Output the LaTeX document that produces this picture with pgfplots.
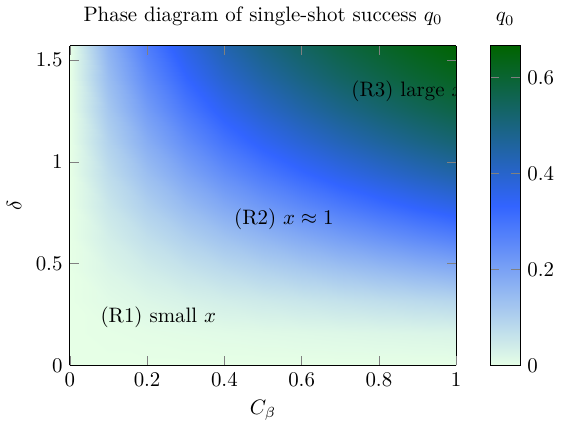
\documentclass[border=0pt]{standalone}
\usepackage{pgfplots}
\pgfplotsset{compat=1.18}

\begin{document}
\begin{tikzpicture}
\begin{axis}[
  width=185pt, height=153pt, scale only axis,
  view={0}{90},
  xmin=0, xmax=1, ymin=0, ymax=1.5708,
  enlargelimits=false,
  xtick={0,0.2,0.4,0.6,0.8,1},
  ytick={0,0.5,1,1.5},
  xlabel={$C_\beta$}, ylabel={$\delta$},
  title={Phase diagram of single-shot success $q_0$},
  colormap={q0map}{rgb255=(230,255,230) rgb255=(50,100,255) rgb255=(0,100,0)},
  colorbar,
  colorbar style={title={$q_0$}, ytick={0,0.2,0.4,0.6}, xshift=2pt},
  point meta min=0, point meta max=0.666,
  axis on top,
]
% q0 on a C_beta x delta grid (x varies fastest, 11 points per row)
\addplot3[surf, shader=interp, mesh/cols=11] table[row sep=\\] {
x y z\\
0 0 0\\ 0.1 0 0\\ 0.2 0 0\\ 0.3 0 0\\ 0.4 0 0\\ 0.5 0 0\\ 0.6 0 0\\ 0.7 0 0\\ 0.8 0 0\\ 0.9 0 0\\ 1 0 0\\
0 0.1571 0\\ 0.1 0.1571 0.0024\\ 0.2 0.1571 0.0048\\ 0.3 0.1571 0.0071\\ 0.4 0.1571 0.0095\\ 0.5 0.1571 0.0119\\ 0.6 0.1571 0.0142\\ 0.7 0.1571 0.0165\\ 0.8 0.1571 0.0188\\ 0.9 0.1571 0.0211\\ 1 0.1571 0.0234\\
0 0.3142 0\\ 0.1 0.3142 0.0095\\ 0.2 0.3142 0.0187\\ 0.3 0.3142 0.0278\\ 0.4 0.3142 0.0368\\ 0.5 0.3142 0.0455\\ 0.6 0.3142 0.0541\\ 0.7 0.3142 0.0626\\ 0.8 0.3142 0.0709\\ 0.9 0.3142 0.0791\\ 1 0.3142 0.0871\\
0 0.4712 0\\ 0.1 0.4712 0.0208\\ 0.2 0.4712 0.0408\\ 0.3 0.4712 0.0599\\ 0.4 0.4712 0.0783\\ 0.5 0.4712 0.0960\\ 0.6 0.4712 0.1131\\ 0.7 0.4712 0.1295\\ 0.8 0.4712 0.1453\\ 0.9 0.4712 0.1606\\ 1 0.4712 0.1753\\
0 0.6283 0\\ 0.1 0.6283 0.0359\\ 0.2 0.6283 0.0693\\ 0.3 0.6283 0.1005\\ 0.4 0.6283 0.1296\\ 0.5 0.6283 0.1570\\ 0.6 0.6283 0.1826\\ 0.7 0.6283 0.2068\\ 0.8 0.6283 0.2295\\ 0.9 0.6283 0.2510\\ 1 0.6283 0.2714\\
0 0.7854 0\\ 0.1 0.7854 0.0540\\ 0.2 0.7854 0.1025\\ 0.3 0.7854 0.1463\\ 0.4 0.7854 0.1860\\ 0.5 0.7854 0.2221\\ 0.6 0.7854 0.2552\\ 0.7 0.7854 0.2856\\ 0.8 0.7854 0.3136\\ 0.9 0.7854 0.3395\\ 1 0.7854 0.3635\\
0 0.9425 0\\ 0.1 0.9425 0.0744\\ 0.2 0.9425 0.1385\\ 0.3 0.9425 0.1943\\ 0.4 0.9425 0.2433\\ 0.5 0.9425 0.2867\\ 0.6 0.9425 0.3254\\ 0.7 0.9425 0.3601\\ 0.8 0.9425 0.3914\\ 0.9 0.9425 0.4198\\ 1 0.9425 0.4456\\
0 1.0996 0\\ 0.1 1.0996 0.0962\\ 0.2 1.0996 0.1756\\ 0.3 1.0996 0.2421\\ 0.4 1.0996 0.2987\\ 0.5 1.0996 0.3474\\ 0.6 1.0996 0.3898\\ 0.7 1.0996 0.4270\\ 0.8 1.0996 0.4600\\ 0.9 1.0996 0.4893\\ 1 1.0996 0.5157\\
0 1.2566 0\\ 0.1 1.2566 0.1187\\ 0.2 1.2566 0.2123\\ 0.3 1.2566 0.2879\\ 0.4 1.2566 0.3502\\ 0.5 1.2566 0.4025\\ 0.6 1.2566 0.4470\\ 0.7 1.2566 0.4854\\ 0.8 1.2566 0.5188\\ 0.9 1.2566 0.5481\\ 1 1.2566 0.5740\\
0 1.4137 0\\ 0.1 1.4137 0.1413\\ 0.2 1.4137 0.2476\\ 0.3 1.4137 0.3304\\ 0.4 1.4137 0.3969\\ 0.5 1.4137 0.4513\\ 0.6 1.4137 0.4967\\ 0.7 1.4137 0.5352\\ 0.8 1.4137 0.5682\\ 0.9 1.4137 0.5969\\ 1 1.4137 0.6219\\
0 1.5708 0\\ 0.1 1.5708 0.1632\\ 0.2 1.5708 0.2806\\ 0.3 1.5708 0.3691\\ 0.4 1.5708 0.4382\\ 0.5 1.5708 0.4937\\ 0.6 1.5708 0.5392\\ 0.7 1.5708 0.5772\\ 0.8 1.5708 0.6094\\ 0.9 1.5708 0.6370\\ 1 1.5708 0.6610\\
};
\node at (axis cs:0.229,0.235) {(R1) small $x$};
\node at (axis cs:0.554,0.716) {(R2) $x\approx 1$};
\node[anchor=west, inner sep=0pt] at (axis cs:0.728,1.348) {(R3) large $x$};
\end{axis}
\end{tikzpicture}
\end{document}
